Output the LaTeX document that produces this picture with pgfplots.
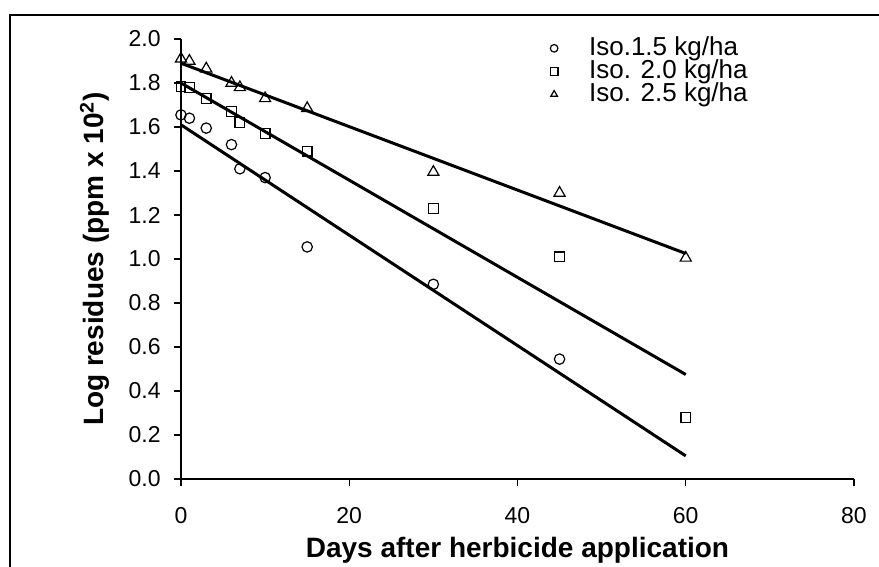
\documentclass[border=0pt]{standalone}
\usepackage{pgfplots}
\pgfplotsset{compat=1.18}
\usepackage{fontspec}
\setmainfont{Liberation Sans}
\begin{document}
\begin{tikzpicture}
\useasboundingbox (0,0) rectangle (439.5pt,-283.5pt);
\clip (0,0) rectangle (439.5pt,-283.5pt);
\draw[line width=1pt] (5pt,-300pt) -- (5pt,-7.5pt) -- (460pt,-7.5pt);
\begin{axis}[
  at={(90.5pt,-239.5pt)}, anchor=south west,
  scale only axis, width=336.5pt, height=220pt,
  xmin=0, xmax=80, ymin=0, ymax=2.0,
  axis lines=left, axis line style={-, line width=0.7pt},
  tick align=outside, major tick length=3.5pt,
  tick style={line width=0.7pt, black},
  xtick={0,20,40,60,80}, ytick={0,0.2,...,2.01},
  /pgf/number format/assume math mode=true,
  /pgf/number format/.cd, fixed, fixed zerofill, precision=1, /pgfplots/.cd,
  xticklabel style={/pgf/number format/precision=0, font=\fontsize{11.5}{12}\selectfont, inner sep=0pt, anchor=north, yshift=-10.5pt},
  yticklabel style={font=\fontsize{11.5}{12}\selectfont, inner sep=0pt, anchor=east, xshift=-6.5pt},
  xlabel={Days after herbicide application},
  ylabel={Log residues (ppm x 10\textsuperscript{2})},
  every axis x label/.style={at={(axis description cs:0.5,-0.1318)}, anchor=north, inner sep=0pt, font=\bfseries\fontsize{14}{16}\selectfont},
  every axis y label/.style={at={(axis description cs:-0.128,0.5)}, rotate=90, anchor=center, inner sep=0pt, font=\bfseries\fontsize{14}{16}\selectfont},
  legend style={draw=none, fill=none, at={(rel axis cs:0.536,1.015)}, anchor=north west,
    font=\fontsize{13}{13}\selectfont,
    nodes={inner sep=0pt, text height=9.3pt, text depth=2.2pt},
    row sep=0pt, column sep=0pt},
  legend cell align=left,
  legend image code/.code={\draw[#1, mark size=1.9pt] plot coordinates {(0pt,0pt)}; \path[draw=none] (-3pt,0pt) -- (17.5pt,0pt);},
  clip=false,
]
\addplot[only marks, mark=o, mark size=2.6pt, mark options={line width=0.6pt}] coordinates {
(0,1.655) (1,1.64) (3,1.595) (6,1.52) (7,1.41) (10,1.37) (15,1.055) (30,0.885) (45,0.545)};
\addlegendentry{Iso.1.5 kg/ha}
\addplot[only marks, mark=square, mark size=2.4pt, mark options={line width=0.6pt}] coordinates {
(0,1.785) (1,1.78) (3,1.73) (6,1.67) (7,1.62) (10,1.57) (15,1.49) (30,1.23) (45,1.01) (60,0.28)};
\addlegendentry{Iso. 2.0 kg/ha}
\addplot[only marks, mark=triangle, mark size=3.2pt, mark options={line width=0.6pt}] coordinates {
(0,1.91) (1,1.90) (3,1.865) (6,1.80) (7,1.78) (10,1.73) (15,1.685) (30,1.395) (45,1.30) (60,1.005)};
\addlegendentry{Iso. 2.5 kg/ha}
\addplot[forget plot, no marks, line width=1.5pt] coordinates {(0,1.61) (60,0.105)};
\addplot[forget plot, no marks, line width=1.5pt] coordinates {(0,1.80) (60,0.475)};
\addplot[forget plot, no marks, line width=1.5pt] coordinates {(0,1.89) (60,1.025)};
\end{axis}
\end{tikzpicture}
\end{document}
